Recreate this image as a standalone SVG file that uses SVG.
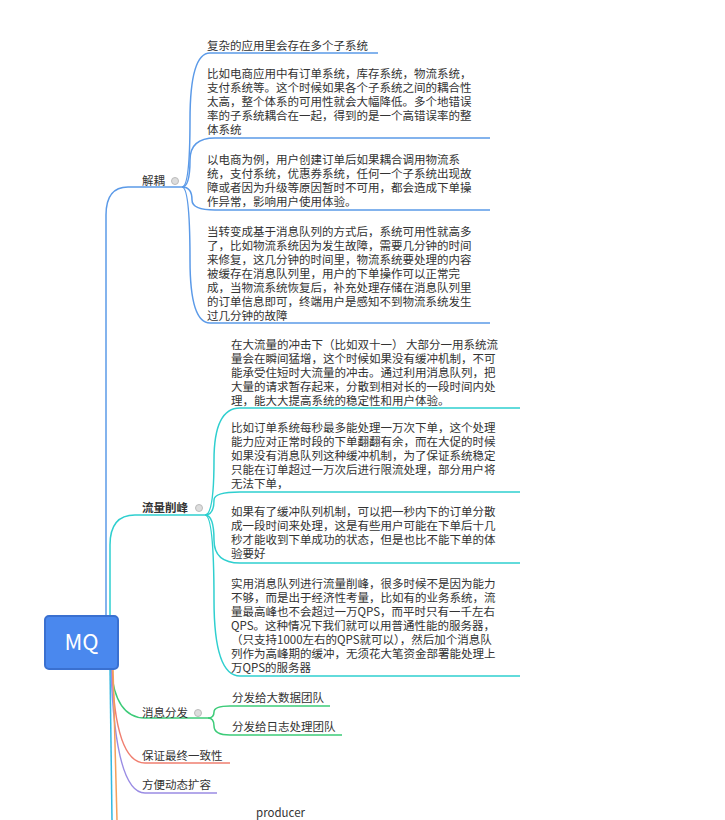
<svg xmlns="http://www.w3.org/2000/svg" width="725" height="820" viewBox="0 0 725 820">
<style>
text{font-family:"Noto Sans CJK SC","Noto Sans",sans-serif;font-size:11.5px;fill:#333}
.c{fill:none;stroke-width:1.5}
.b{stroke:#5b9ae8}.t{stroke:#2fcfcf}.g{stroke:#3ccb78}.r{stroke:#f07f70}.p{stroke:#9a8ce4}.o{stroke:#f5a05a}.cy{stroke:#33b8e0}
.dot{fill:#ddd;stroke:#bbb}
</style>
<rect width="725" height="820" fill="#fff"/>
<g id="connectors">
<path class="c b" d="M106 617 L106 215 Q106 187 128 187 L182 187"/>
<path class="c b" d="M182 187 Q190 187 190 120 Q190 53 210 53 L378 53"/>
<path class="c b" d="M182 187 Q190 187 190 160 Q190 138 215 138 L490 138"/>
<path class="c b" d="M182 187 Q192 187 192 200 Q192 210 215 210 L490 210"/>
<path class="c b" d="M182 187 Q190 187 190 260 Q190 323 210 323 L490 323"/>
<path class="c t" d="M110 617 L110 545 Q110 515 135 515 L205 515"/>
<path class="c t" d="M205 515 Q214 515 214 460 Q214 408 240 408 L520 408"/>
<path class="c t" d="M205 515 Q214 515 214 500 Q214 492 240 492 L520 492"/>
<path class="c t" d="M205 515 Q214 515 214 540 Q214 563 240 563 L520 563"/>
<path class="c t" d="M205 515 Q214 515 214 600 Q214 676 240 676 L520 676"/>
<path class="c g" d="M111 668 Q115 718 145 718 L208 718"/>
<path class="c g" d="M208 718 Q214 718 214 712 Q214 706 230 706 L330 706"/>
<path class="c g" d="M208 718 Q214 718 214 726 Q214 735 230 735 L342 735"/>
<path class="c r" d="M112 668 Q115 763 145 763 L230 763"/>
<path class="c p" d="M111 668 Q115 793 145 793 L217 793"/>
<path class="c cy" d="M110 668 L112 820"/>
<path class="c o" d="M113 668 L117 820"/>
</g>
<g id="mq"><rect x="45" y="616" width="73" height="53" rx="4" fill="#4a88ee" stroke="#3a70d0" stroke-width="2"/><text x="81.5" y="650" text-anchor="middle" style="font-size:22px;fill:#fff">MQ</text></g>
<g id="n-jieou"><text x="142" y="185">解耦</text><circle class="dot" cx="175" cy="181" r="3.5"/></g>
<g id="n-j1"><text x="207" y="50">复杂的应用里会存在多个子系统</text></g>
<g id="n-j2"><text x="207" y="78">比如电商应用中有订单系统，库存系统，物流系统，</text><text x="207" y="92">支付系统等。这个时候如果各个子系统之间的耦合性</text><text x="207" y="106">太高，整个体系的可用性就会大幅降低。多个地错误</text><text x="207" y="120">率的子系统耦合在一起，得到的是一个高错误率的整</text><text x="207" y="134">体系统</text></g>
<g id="n-j3"><text x="207" y="164">以电商为例，用户创建订单后如果耦合调用物流系</text><text x="207" y="178">统，支付系统，优惠券系统，任何一个子系统出现故</text><text x="207" y="192">障或者因为升级等原因暂时不可用，都会造成下单操</text><text x="207" y="206">作异常，影响用户使用体验。</text></g>
<g id="n-j4"><text x="207" y="236">当转变成基于消息队列的方式后，系统可用性就高多</text><text x="207" y="250">了，比如物流系统因为发生故障，需要几分钟的时间</text><text x="207" y="264">来修复，这几分钟的时间里，物流系统要处理的内容</text><text x="207" y="278">被缓存在消息队列里，用户的下单操作可以正常完</text><text x="207" y="292">成，当物流系统恢复后，补充处理存储在消息队列里</text><text x="207" y="306">的订单信息即可，终端用户是感知不到物流系统发生</text><text x="207" y="320">过几分钟的故障</text></g>
<g id="n-liuliang"><text x="142" y="512" style="font-weight:bold">流量削峰</text><circle class="dot" cx="199" cy="508" r="3.5"/></g>
<g id="n-l1"><text x="231" y="349">在大流量的冲击下（比如双十一） 大部分一用系统流</text><text x="231" y="363">量会在瞬间猛增，这个时候如果没有缓冲机制，不可</text><text x="231" y="377">能承受住短时大流量的冲击。通过利用消息队列，把</text><text x="231" y="391">大量的请求暂存起来，分散到相对长的一段时间内处</text><text x="231" y="405">理，能大大提高系统的稳定性和用户体验。</text></g>
<g id="n-l2"><text x="231" y="432">比如订单系统每秒最多能处理一万次下单，这个处理</text><text x="231" y="446">能力应对正常时段的下单翻翻有余，而在大促的时候</text><text x="231" y="460">如果没有消息队列这种缓冲机制，为了保证系统稳定</text><text x="231" y="474">只能在订单超过一万次后进行限流处理，部分用户将</text><text x="231" y="488">无法下单，</text></g>
<g id="n-l3"><text x="231" y="516">如果有了缓冲队列机制，可以把一秒内下的订单分散</text><text x="231" y="530">成一段时间来处理，这是有些用户可能在下单后十几</text><text x="231" y="544">秒才能收到下单成功的状态，但是也比不能下单的体</text><text x="231" y="558">验要好</text></g>
<g id="n-l4"><text x="231" y="588">实用消息队列进行流量削峰，很多时候不是因为能力</text><text x="231" y="602">不够，而是出于经济性考量，比如有的业务系统，流</text><text x="231" y="616">量最高峰也不会超过一万QPS，而平时只有一千左右</text><text x="231" y="630">QPS。这种情况下我们就可以用普通性能的服务器，</text><text x="231" y="644">（只支持1000左右的QPS就可以），然后加个消息队</text><text x="231" y="658">列作为高峰期的缓冲，无须花大笔资金部署能处理上</text><text x="231" y="672">万QPS的服务器</text></g>
<g id="n-fenfa"><text x="142" y="717">消息分发</text><circle class="dot" cx="198" cy="713" r="3.5"/></g>
<g id="n-f1"><text x="232" y="702">分发给大数据团队</text></g>
<g id="n-f2"><text x="232" y="731">分发给日志处理团队</text></g>
<g id="n-baozheng"><text x="142" y="760">保证最终一致性</text></g>
<g id="n-fangbian"><text x="142" y="789">方便动态扩容</text></g>
<g id="n-producer"><text x="256" y="817">producer</text></g>
</svg>
